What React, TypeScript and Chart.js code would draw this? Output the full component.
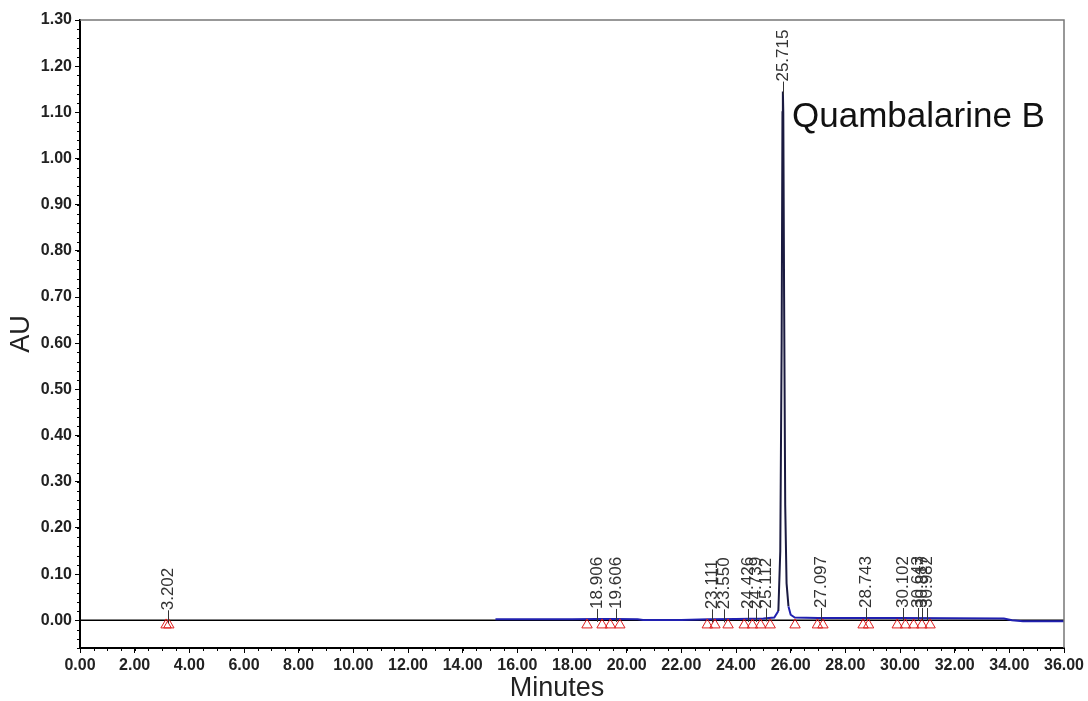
import React, { useEffect, useRef } from "react";
import { Chart, registerables } from "chart.js";

Chart.register(...registerables);

// ---- data ----
const traceTimes = [15.2, 16, 18, 18.9, 19.6, 20.4, 20.6, 22, 23, 24, 25, 25.4, 25.55, 25.62, 25.67, 25.7, 25.715, 25.73, 25.76, 25.8, 25.85, 25.92, 26.0, 26.15, 27, 30, 33.8, 34.1, 34.5, 36];
const traceAU = [0.002, 0.002, 0.002, 0.003, 0.003, 0.002, 0.0005, 0.0005, 0.002, 0.003, 0.004, 0.006, 0.02, 0.15, 0.6, 1.1, 1.145, 1.1, 0.7, 0.25, 0.08, 0.03, 0.012, 0.006, 0.005, 0.005, 0.004, 0.0, -0.002, -0.002];

const zeroTimes = [0, 36];
const zeroAU = [0, 0];

const peakTimes = [3.202, 18.906, 19.606, 23.111, 23.55, 24.426, 24.739, 25.112, 25.715, 27.097, 28.743, 30.102, 30.643, 30.817, 30.982];
const peakApex = [0, 0.003, 0.003, 0.002, 0.002, 0.003, 0.003, 0.004, 1.145, 0.005, 0.005, 0.005, 0.005, 0.005, 0.005];
const peakLabels = peakTimes.map((t) => t.toFixed(3));

const markerTimes = [3.15, 3.25, 18.55, 19.1, 19.4, 19.75, 22.95, 23.23, 23.71, 24.3, 24.6, 24.9, 25.25, 26.16, 26.98, 27.18, 28.65, 28.85, 29.9, 30.2, 30.5, 30.8, 31.1];
const markerAU = markerTimes.map(() => -0.01);

const xTickValues = [0, 2, 4, 6, 8, 10, 12, 14, 16, 18, 20, 22, 24, 26, 28, 30, 32, 34, 36];
const yTickValues = [0, 0.1, 0.2, 0.3, 0.4, 0.5, 0.6, 0.7, 0.8, 0.9, 1.0, 1.1, 1.2, 1.3];
const xMinorStep = 0.5;
const yMinorStep = 0.02;

const xTitle = "Minutes";
const yTitle = "AU";
const compoundName = "Quambalarine B";

const FONT = "'Liberation Sans', Arial, sans-serif";

const overlay = {
  id: "overlay",
  afterDatasetsDraw(chart: any) {
    const { ctx, chartArea, scales } = chart;
    const xs = scales.x;
    const ys = scales.y;
    ctx.save();
    // top & right border
    ctx.strokeStyle = "#777";
    ctx.lineWidth = 1.5;
    ctx.beginPath();
    ctx.moveTo(chartArea.left, chartArea.top);
    ctx.lineTo(chartArea.right, chartArea.top);
    ctx.lineTo(chartArea.right, chartArea.bottom);
    ctx.stroke();

    // minor ticks
    ctx.strokeStyle = "#000";
    ctx.lineWidth = 1;
    ctx.beginPath();
    for (let v = ys.min; v <= ys.max + 1e-9; v += yMinorStep) {
      const py = Math.round(ys.getPixelForValue(v)) + 0.5;
      ctx.moveTo(chartArea.left - 3, py);
      ctx.lineTo(chartArea.left, py);
    }
    for (let v = xs.min; v <= xs.max + 1e-9; v += xMinorStep) {
      const px = Math.round(xs.getPixelForValue(v)) + 0.5;
      ctx.moveTo(px, chartArea.bottom);
      ctx.lineTo(px, chartArea.bottom + 3);
    }
    ctx.stroke();

    // peak labels
    ctx.font = `17px ${FONT}`;
    ctx.fillStyle = "#333";
    ctx.strokeStyle = "#333";
    ctx.lineWidth = 1;
    peakTimes.forEach((t, i) => {
      const px = Math.round(xs.getPixelForValue(t)) + 0.5;
      const py = ys.getPixelForValue(peakApex[i]);
      const base = py - 10;
      ctx.beginPath();
      ctx.moveTo(px, py + 3);
      ctx.lineTo(px, base);
      ctx.stroke();
      ctx.save();
      ctx.translate(px, base);
      ctx.rotate(-Math.PI / 2);
      ctx.textAlign = "left";
      ctx.textBaseline = "middle";
      ctx.fillText(peakLabels[i], 0, 0);
      ctx.restore();
    });

    // compound annotation
    ctx.fillStyle = "#111";
    ctx.font = `35px ${FONT}`;
    ctx.textAlign = "left";
    ctx.textBaseline = "alphabetic";
    ctx.fillText(compoundName, 792, 127);

    // axis titles
    ctx.font = `27px ${FONT}`;
    ctx.fillStyle = "#222";
    ctx.textAlign = "center";
    ctx.textBaseline = "middle";
    ctx.fillText(xTitle, (chartArea.left + chartArea.right) / 2 - 15, 689);
    ctx.save();
    ctx.translate(22, (chartArea.top + chartArea.bottom) / 2);
    ctx.rotate(-Math.PI / 2);
    ctx.fillText(yTitle, 0, 0);
    ctx.restore();
    ctx.restore();
  },
};

export default function App() {
  const ref = useRef<HTMLCanvasElement | null>(null);
  useEffect(() => {
    document.body.style.margin = "0";
    const canvas = ref.current!;
    const chart = new Chart(canvas, {
      type: "scatter",
      data: {
        datasets: [
          {
            label: "markers",
            data: markerTimes.map((x, i) => ({ x, y: markerAU[i] })),
            showLine: false,
            pointStyle: "triangle",
            pointRadius: 6,
            pointBorderColor: "#e02020",
            pointBackgroundColor: "rgba(0,0,0,0)",
            pointBorderWidth: 1,
            borderColor: "#e02020",
          },
          {
            label: "trace",
            data: traceTimes.map((x, i) => ({ x, y: traceAU[i] })),
            showLine: true,
            pointRadius: 0,
            borderWidth: 2,
            borderColor: "#2020b0",
            segment: {
              borderColor: (c: any) =>
                c.p0.parsed.y > 0.03 || c.p1.parsed.y > 0.03 ? "#1a1a40" : "#2020b0",
            },
          },
          {
            label: "zero",
            data: zeroTimes.map((x, i) => ({ x, y: zeroAU[i] })),
            showLine: true,
            pointRadius: 0,
            borderWidth: 1.5,
            borderColor: "#000",
          },
        ],
      },
      options: {
        animation: false,
        responsive: false,
        devicePixelRatio: 1,
        layout: { padding: { top: 20, right: 24, left: 0, bottom: 0 } },
        plugins: { legend: { display: false }, tooltip: { enabled: false } },
        scales: {
          x: {
            type: "linear",
            min: 0,
            max: 36,
            afterFit: (s: any) => {
              s.height = 53;
            },
            afterBuildTicks: (s: any) => {
              s.ticks = xTickValues.map((v) => ({ value: v }));
            },
            ticks: {
              autoSkip: false,
              maxRotation: 0,
              minRotation: 0,
              padding: 3,
              color: "#222",
              font: { family: FONT, size: 16, weight: "bold" },
              callback: (v: any) => Number(v).toFixed(2),
            },
            grid: { drawOnChartArea: false, drawTicks: true, tickLength: 5, color: "#000" },
            border: { display: true, color: "#000", width: 2 },
          },
          y: {
            type: "linear",
            min: -0.06,
            max: 1.3,
            afterFit: (s: any) => {
              s.width = 80;
            },
            afterBuildTicks: (s: any) => {
              s.ticks = yTickValues.map((v) => ({ value: v }));
            },
            ticks: {
              autoSkip: false,
              padding: 3,
              color: "#222",
              font: { family: FONT, size: 16, weight: "bold" },
              callback: (v: any) => Number(v).toFixed(2),
            },
            grid: { drawOnChartArea: false, drawTicks: true, tickLength: 5, color: "#000" },
            border: { display: true, color: "#000", width: 2 },
          },
        },
      },
      plugins: [overlay],
    });
    return () => chart.destroy();
  }, []);
  return (
    <div style={{ position: "absolute", left: 0, top: 0, width: 1088, height: 701, background: "#fff" }}>
      <canvas ref={ref} width={1088} height={701} />
    </div>
  );
}
